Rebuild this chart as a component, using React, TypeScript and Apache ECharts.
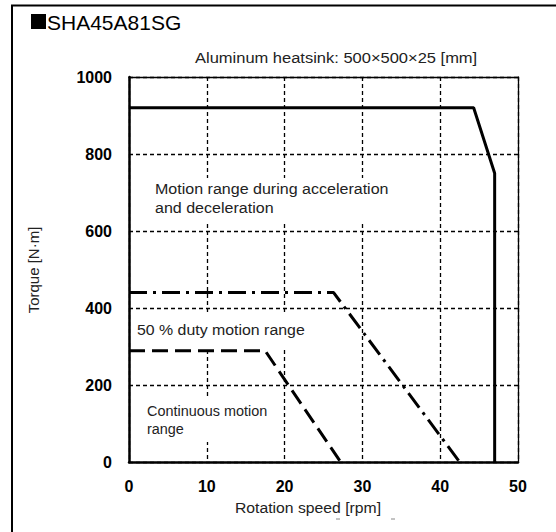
import React, { useEffect, useRef } from "react";
import * as echarts from "echarts";

const xTicks = [0, 10, 20, 30, 40, 50];
const yTicks = [0, 200, 400, 600, 800, 1000];
const accelRange: [number, number][] = [[0, 920], [44.3, 920], [47, 750], [47, 0]];
const dutyRange: [number, number][] = [[0, 440], [26.3, 440], [42.5, 0]];
const contRange: [number, number][] = [[0, 289], [17.5, 289], [27.2, 0]];

const FONT = "'Liberation Sans', Arial, sans-serif";

export default function App() {
  const ref = useRef<HTMLDivElement>(null);
  useEffect(() => {
    if (!ref.current) return;
    const chart = echarts.init(ref.current, undefined, { renderer: "svg" });
    const lineCommon = { type: "line", showSymbol: false, symbol: "none", z: 3 };
    const label = (text: string, x: number, y: number, size: number, sx: number, extra: any = {}) => ({
      type: "text", z: 11, x, y, scaleX: sx,
      style: { text, font: `${size}px ${FONT}`, fill: "#222", verticalAlign: "middle", ...extra },
    });
    chart.setOption({
      animation: false,
      backgroundColor: "#fff",
      grid: { left: 129, right: 38, top: 77, bottom: 70 },
      xAxis: [
        {
          type: "value", min: xTicks[0], max: xTicks[xTicks.length - 1], interval: 10,
          axisLine: { show: true, lineStyle: { color: "#000", width: 2.5 } },
          axisTick: { show: false },
          axisLabel: { margin: 16, color: "#000", fontSize: 16, fontWeight: "bold", fontFamily: FONT, formatter: (v: number) => String(v) },
          splitLine: { show: true, lineStyle: { color: "#000", width: 1.3, type: [4, 3] } },
        },
        {
          type: "value", min: 0, max: 50, position: "top",
          axisLine: { show: true, onZero: false, lineStyle: { color: "#000", width: 1.3 } },
          axisTick: { show: false }, axisLabel: { show: false }, splitLine: { show: false },
        },
      ],
      yAxis: [
        {
          type: "value", min: yTicks[0], max: yTicks[yTicks.length - 1], interval: 200,
          axisLine: { show: true, lineStyle: { color: "#000", width: 2.5 } },
          axisTick: { show: false },
          axisLabel: { margin: 17, color: "#000", fontSize: 16, fontWeight: "bold", fontFamily: FONT, formatter: (v: number) => String(v) },
          splitLine: { show: true, lineStyle: { color: "#000", width: 1.3, type: [4, 3] } },
        },
        {
          type: "value", min: 0, max: 1000, position: "right",
          axisLine: { show: true, onZero: false, lineStyle: { color: "#000", width: 1.3 } },
          axisTick: { show: false }, axisLabel: { show: false }, splitLine: { show: false },
        },
      ],
      series: [
        { ...lineCommon, name: "accel", data: accelRange, lineStyle: { color: "#000", width: 3 } },
        { ...lineCommon, name: "duty", data: dutyRange, lineStyle: { color: "#000", width: 3, type: [18, 6, 3, 6], cap: "butt" } },
        { ...lineCommon, name: "cont", data: contRange, lineStyle: { color: "#000", width: 3, type: [16, 7], cap: "butt" } },
      ],
      graphic: [
        { type: "rect", z: 10, shape: { x: 12, y: 5.5, width: 700, height: 700 }, style: { fill: "none", stroke: "#000", lineWidth: 2 } },
        { type: "rect", z: 10, shape: { x: 31, y: 14, width: 15, height: 15 }, style: { fill: "#000" } },
        { type: "text", z: 10, x: 47, y: 22, style: { text: "SHA45A81SG", font: `21px ${FONT}`, fill: "#000", verticalAlign: "middle" } },
        label("Aluminum heatsink: 500×500×25 [mm]", 195, 58, 15, 1.1),
        { type: "rect", z: 10, shape: { x: 150, y: 178, width: 245, height: 46 }, style: { fill: "#fff" } },
        label("Motion range during acceleration", 155, 189, 15, 1.07),
        label("and deceleration", 155, 208, 15, 1.07),
        { type: "rect", z: 10, shape: { x: 131, y: 313, width: 180, height: 34 }, style: { fill: "#fff" } },
        label("50 % duty motion range", 137, 330, 15, 1.06),
        { type: "rect", z: 10, shape: { x: 140, y: 397, width: 134, height: 45 }, style: { fill: "#fff" } },
        label("Continuous motion", 147, 411, 14, 1.03),
        label("range", 147, 429, 14, 1.03),
        { type: "text", z: 10, x: 33, y: 270, rotation: Math.PI / 2, style: { text: "Torque [N·m]", font: `15px ${FONT}`, fill: "#222", align: "center", verticalAlign: "middle" } },
        { type: "text", z: 10, x: 308, y: 508, scaleX: 1.05, style: { text: "Rotation speed [rpm]", font: `15px ${FONT}`, fill: "#222", align: "center", verticalAlign: "middle" } },
        { type: "line", z: 10, shape: { x1: 336, y1: 519, x2: 340, y2: 519 }, style: { stroke: "#888", lineWidth: 1 } },
        { type: "line", z: 10, shape: { x1: 391, y1: 519, x2: 395, y2: 519 }, style: { stroke: "#888", lineWidth: 1 } },
      ],
    });
    return () => chart.dispose();
  }, []);
  return <div ref={ref} style={{ position: "fixed", left: 0, top: 0, width: 556, height: 532 }} />;
}
